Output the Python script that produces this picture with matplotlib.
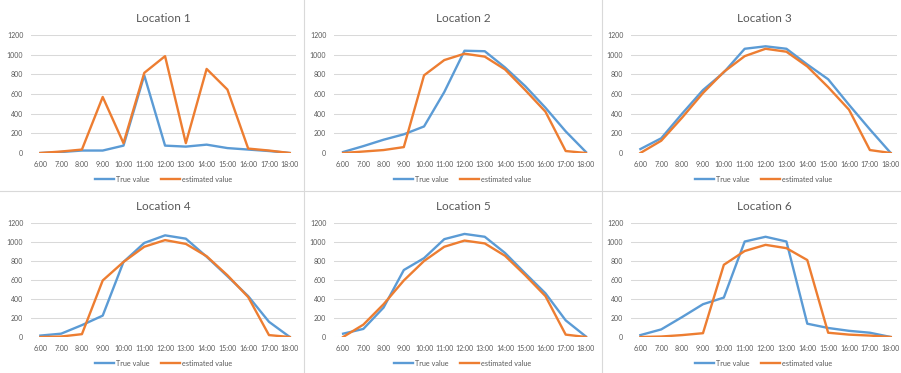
import numpy as np
import matplotlib
matplotlib.use("Agg")
import matplotlib.pyplot as plt
from matplotlib.lines import Line2D

plt.rcParams["font.family"] = ["Lato", "DejaVu Sans"]

hours = ["6:00", "7:00", "8:00", "9:00", "10:00", "11:00", "12:00",
         "13:00", "14:00", "15:00", "16:00", "17:00", "18:00"]

true_1 = [0, 10, 25, 25, 75, 790, 75, 65, 85, 50, 35, 20, 0]
est_1 = [0, 15, 35, 570, 100, 815, 985, 100, 855, 645, 45, 25, 0]

true_2 = [10, 70, 135, 190, 270, 620, 1040, 1035, 870, 680, 460, 220, 10]
est_2 = [0, 15, 30, 60, 790, 945, 1010, 980, 850, 640, 420, 20, 0]

true_3 = [40, 150, 400, 640, 820, 1060, 1085, 1060, 900, 750, 490, 240, 0]
est_3 = [0, 125, 360, 610, 825, 985, 1060, 1030, 880, 670, 440, 30, 0]

true_4 = [15, 35, 125, 225, 790, 990, 1070, 1035, 845, 640, 430, 160, 0]
est_4 = [0, 5, 30, 595, 790, 950, 1020, 980, 850, 650, 420, 20, 0]

true_5 = [35, 85, 310, 705, 830, 1030, 1085, 1055, 885, 670, 460, 175, 5]
est_5 = [0, 130, 345, 595, 800, 950, 1015, 985, 855, 650, 430, 25, 0]

true_6 = [20, 80, 210, 345, 415, 1005, 1055, 1005, 140, 95, 65, 45, 0]
est_6 = [0, 5, 20, 40, 760, 905, 970, 935, 810, 45, 25, 15, 0]

titles = ["Location 1", "Location 2", "Location 3",
          "Location 4", "Location 5", "Location 6"]
true_vals = [true_1, true_2, true_3, true_4, true_5, true_6]
est_vals = [est_1, est_2, est_3, est_4, est_5, est_6]

W, H = 901, 373
fig = plt.figure(figsize=(W / 100, H / 100), dpi=100)

# axes boxes in pixels: left, right, top(1200), bottom(0)
cols = [(31, 296), (334, 592), (631, 897)]
rows = [(35, 153), (223, 337)]

grey = "#595959"
grid = "#D9D9D9"
x = np.arange(len(hours))

for i in range(6):
    r, c = divmod(i, 3)
    l, rr = cols[c]
    t, b = rows[r]
    ax = fig.add_axes([l / W, 1 - b / H, (rr - l) / W, (b - t) / H])
    ax.plot(x, true_vals[i], color="#5B9BD5", lw=1.7, label="True value")
    ax.plot(x, est_vals[i], color="#ED7D31", lw=1.7, label="estimated value")
    ax.set_ylim(0, 1200)
    ax.set_xlim(-0.45, 12.3)
    ax.set_yticks(range(0, 1201, 200))
    ax.set_xticks(x)
    ax.set_xticklabels(hours)
    ax.grid(axis="y", color=grid, lw=0.75)
    ax.set_axisbelow(True)
    for s in ax.spines.values():
        s.set_visible(False)
    ax.tick_params(length=0, labelsize=5.0, colors=grey, pad=5.5)
    hpx = b - t
    ax.text(0.5, 1 + 17 / hpx, titles[i], transform=ax.transAxes,
            ha="center", va="center", fontsize=8.5, color=grey)
    ax.legend(loc="center", bbox_to_anchor=(0.5, -26 / hpx), ncol=2,
              frameon=False, fontsize=5.2, handlelength=2.6,
              handletextpad=0.3, columnspacing=1.6, labelcolor=grey)

# panel dividers
for xv in (304, 602):
    fig.add_artist(Line2D([xv / W, xv / W], [0, 1], color=grid, lw=0.8))
fig.add_artist(Line2D([0, 1], [1 - 191 / H, 1 - 191 / H], color=grid, lw=0.8))

fig.savefig("out.png", dpi=100)
